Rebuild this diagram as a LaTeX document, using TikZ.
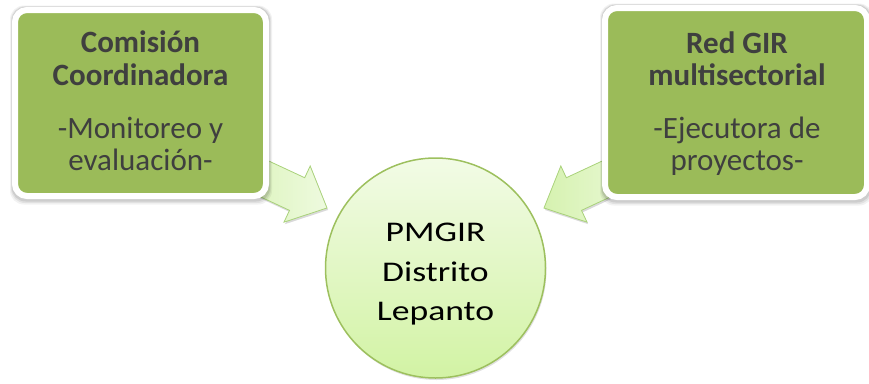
\documentclass[tikz,border=0pt]{standalone}
\usepackage{fontspec}
\setmainfont{Carlito}
\usetikzlibrary{shadows,calc}
\definecolor{boxgreen}{HTML}{9BBB59}
\definecolor{boxtext}{HTML}{3F3F3F}
\definecolor{circtop}{HTML}{F2FBE6}
\definecolor{circbot}{HTML}{D2F3A4}
\definecolor{circline}{HTML}{9DC05E}
\definecolor{arrA}{HTML}{D6F2B0}
\definecolor{arrB}{HTML}{EEFADF}
\definecolor{arrline}{HTML}{A9D27A}
\pgfdeclarelayer{bg}
\pgfdeclarelayer{sh}
\pgfsetlayers{bg,sh,main}
\tikzset{
  gbox/.style={rectangle, rounded corners=12pt, fill=boxgreen, draw=white, line width=6pt},
  shlayer/.style={fill=black, rounded corners=14pt},
  btext/.style={anchor=base, text=boxtext, font=\fontsize{31}{33}\selectfont\bfseries, inner sep=0pt},
  ntext/.style={anchor=base, text=boxtext, font=\fontsize{31}{33}\selectfont, inner sep=0pt},
  ctext/.style={anchor=base, text=black, font=\fontsize{28.5}{39}\selectfont, inner sep=0pt, xscale=1.25},
  circ/.style={circle, minimum size=220pt, inner sep=0pt, draw=circline, line width=1.5pt,
    top color=circtop, bottom color=circbot,
    drop shadow={shadow xshift=1pt, shadow yshift=-2pt, opacity=0.12, fill=black}},
  barrow/.style={draw=arrline, line width=0.8pt, left color=arrA, right color=arrB,
    drop shadow={shadow xshift=1pt, shadow yshift=-2pt, opacity=0.15, fill=black}}
}
\newcommand\myboxshadow[1]{%
  \fill[shlayer, opacity=0.05] ($(#1.north west)+(-2,-1.5)$) rectangle ($(#1.south east)+(3,5.5)$);
  \fill[shlayer, opacity=0.07] ($(#1.north west)+(-1,-0.8)$) rectangle ($(#1.south east)+(2,4)$);
  \fill[shlayer, opacity=0.09] ($(#1.north west)+(-0.3,-0.2)$) rectangle ($(#1.south east)+(1,2.5)$);
}
\begin{document}
\begin{tikzpicture}[x=1pt,y=-1pt]
\useasboundingbox (0,0) rectangle (869,383);
\begin{pgfonlayer}{bg}
% central circle
\node[circ] (pm) at (435.5,268) {};
% arrows
\begin{scope}[shift={(327,208)}, rotate=-25]
  \path[barrow] (0,0) -- (-33,-31) -- (-33,-18) -- (-115,-18) -- (-115,18) -- (-33,18) -- (-33,31) -- cycle;
\end{scope}
\begin{scope}[shift={(544,208)}, rotate=-155]
  \path[barrow] (0,0) -- (-33,-31) -- (-33,-18) -- (-115,-18) -- (-115,18) -- (-33,18) -- (-33,31) -- cycle;
\end{scope}
\end{pgfonlayer}
% boxes
\node[gbox, minimum width=251pt, minimum height=186pt] (lbox) at (140.5,103) {};
\node[gbox, minimum width=262pt, minimum height=189pt] (rbox) at (736,102.5) {};
\begin{pgfonlayer}{sh}
\myboxshadow{lbox}
\myboxshadow{rbox}
\end{pgfonlayer}
% left box text
\node[btext] (l1) at (140.5,52.5) {Comisión};
\node[btext] (l2) at (140.5,85) {Coordinadora};
\node[ntext] (l3) at (140.5,138) {-Monitoreo y};
\node[ntext] (l4) at (140.5,170) {evaluación-};
% right box text
\node[btext] (r1) at (737,53) {Red GIR};
\node[btext] (r2) at (737,85) {multisectorial};
\node[ntext] (r3) at (737,138) {-Ejecutora de};
\node[ntext] (r4) at (737,170) {proyectos-};
% circle text
\node[ctext] (c1) at (435.5,241) {PMGIR};
\node[ctext] (c2) at (435.5,281) {Distrito};
\node[ctext] (c3) at (435.5,320) {Lepanto};
\end{tikzpicture}
\end{document}
